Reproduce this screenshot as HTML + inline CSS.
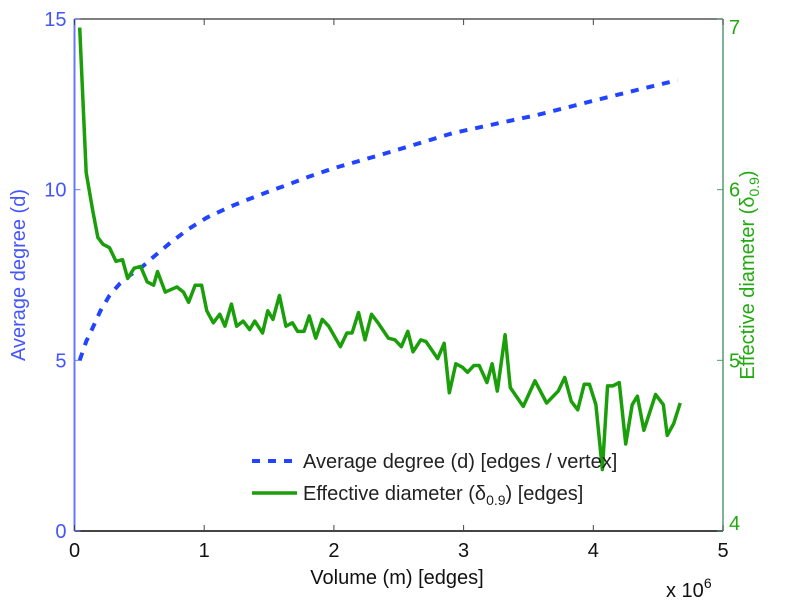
<!DOCTYPE html>
<html><head><meta charset="utf-8"><style>
body{margin:0;background:#fff;}
svg text{font-family:"Liberation Sans",sans-serif;}
</style></head><body>
<svg width="785" height="600" viewBox="0 0 785 600" xmlns="http://www.w3.org/2000/svg">
<g id="plot"></g>
</svg>
<script>
const xTicks=[0,1,2,3,4,5];
const leftTicks=[0,5,10,15];
const rightTicks=[4,5,6,7];
const degX=[0.04,0.09,0.14,0.2,0.27,0.35,0.43,0.51,0.6,0.74,0.88,1.02,1.2,1.33,1.5,1.64,1.8,2.0,2.36,2.65,2.92,3.25,3.57,4.1,4.65];
const degY=[5.0,5.55,5.95,6.45,6.9,7.25,7.5,7.7,8.0,8.45,8.85,9.18,9.5,9.7,9.95,10.14,10.37,10.63,11.02,11.35,11.66,11.93,12.19,12.7,13.21];
const diamX=[0.04,0.09,0.14,0.18,0.22,0.27,0.32,0.37,0.41,0.46,0.51,0.56,0.61,0.64,0.70,0.79,0.84,0.88,0.93,0.98,1.02,1.07,1.12,1.16,1.21,1.25,1.30,1.35,1.39,1.45,1.49,1.53,1.58,1.63,1.68,1.72,1.77,1.81,1.86,1.91,1.96,2.05,2.10,2.14,2.19,2.24,2.29,2.34,2.42,2.47,2.52,2.57,2.61,2.67,2.71,2.80,2.85,2.89,2.94,2.99,3.03,3.08,3.12,3.18,3.22,3.26,3.32,3.36,3.46,3.55,3.64,3.73,3.78,3.83,3.88,3.93,3.97,4.02,4.07,4.11,4.15,4.20,4.25,4.30,4.34,4.39,4.48,4.54,4.57,4.62,4.67];
const diamY=[6.95,6.10,5.88,5.72,5.68,5.66,5.58,5.59,5.48,5.54,5.55,5.46,5.44,5.52,5.40,5.43,5.40,5.34,5.44,5.44,5.29,5.22,5.27,5.20,5.33,5.20,5.23,5.18,5.23,5.16,5.29,5.24,5.38,5.20,5.22,5.17,5.17,5.26,5.13,5.24,5.20,5.08,5.16,5.16,5.28,5.12,5.27,5.22,5.13,5.12,5.08,5.17,5.05,5.12,5.11,5.01,5.10,4.81,4.98,4.96,4.93,4.97,4.97,4.87,4.98,4.82,5.15,4.84,4.73,4.88,4.75,4.82,4.90,4.76,4.71,4.86,4.86,4.74,4.36,4.85,4.85,4.87,4.51,4.74,4.79,4.59,4.80,4.74,4.56,4.63,4.75];

const L=74.5,R=723,T=19,B=531;
const sx=v=>L+(v-0)/5*(R-L);
const syL=v=>B-(v/15)*(B-T);
const syR=v=>B-((v-4)/3)*(B-T);
const NS='http://www.w3.org/2000/svg';
const g=document.getElementById('plot');
function mk(tag,attrs,parent){const e=document.createElementNS(NS,tag);for(const k in attrs)e.setAttribute(k,attrs[k]);(parent||g).appendChild(e);return e;}

let e;
e=mk('line',{x1:L,y1:T,x2:R,y2:T,stroke:'#555','stroke-width':1.5});


e=mk('line',{x1:L,y1:B,x2:R,y2:B,stroke:'#444','stroke-width':2});


e=mk('line',{x1:L,y1:T,x2:L,y2:B,stroke:'#6677ff','stroke-width':2});


e=mk('line',{x1:R,y1:T,x2:R,y2:B,stroke:'#559977','stroke-width':1.5});



xTicks.forEach(t=>{
  const x=sx(t);
  e=mk('line',{x1:x,y1:B,x2:x,y2:B-6,stroke:'#444','stroke-width':1});
  
  
  e=mk('line',{x1:x,y1:T,x2:x,y2:T+6,stroke:'#444','stroke-width':1});
  
  
  e=mk('text',{x:x,y:557,'font-size':20,'text-anchor':'middle',fill:'#111'});
  e.textContent=t;
  
  
});
leftTicks.forEach(t=>{
  const y=syL(t);
  e=mk('line',{x1:L,y1:y,x2:L+6,y2:y,stroke:'#6677ff','stroke-width':1});
  
  
  e=mk('text',{x:L-8,y:y+7,'font-size':20,'text-anchor':'end',fill:'#4455ff'});
  e.textContent=t;
  
  
});
rightTicks.forEach(t=>{
  const y=syR(t);
  e=mk('line',{x1:R,y1:y,x2:R-6,y2:y,stroke:'#559977','stroke-width':1});
  
  
  e=mk('text',{x:R+6,y:y+(t===4?-1:7)+(t===7?8:0),'font-size':20,fill:'#22aa11'});
  e.textContent=t;
  
  
});

e=mk('polyline',{points:degX.map((v,i)=>sx(v)+','+syL(degY[i])).join(' '),fill:'none',stroke:'#2244ff','stroke-width':4,'stroke-dasharray':'8 8'});


e=mk('polyline',{points:diamX.map((v,i)=>sx(v)+','+syR(diamY[i])).join(' '),fill:'none',stroke:'#1a9e0a','stroke-width':3.5,'stroke-linejoin':'round'});



e=mk('line',{x1:252,y1:461,x2:297,y2:461,stroke:'#2244ff','stroke-width':4,'stroke-dasharray':'8 8'});


e=mk('text',{x:303,y:468,'font-size':20,fill:'#222'});
e.textContent='Average degree (d) [edges / vertex]';


e=mk('line',{x1:252,y1:493,x2:297,y2:493,stroke:'#1a9e0a','stroke-width':3.5});


e=mk('text',{x:303,y:500,'font-size':20,fill:'#222'});
e.innerHTML='Effective diameter (δ<tspan font-size="14" dy="5">0.9</tspan><tspan dy="-5">) [edges]</tspan>';



e=mk('text',{x:397,y:584,'font-size':20,'text-anchor':'middle',fill:'#111'});
e.textContent='Volume (m) [edges]';


e=mk('text',{x:666,y:597,'font-size':20,fill:'#111'});
e.innerHTML='x 10<tspan font-size="14" dy="-9">6</tspan>';


e=mk('text',{x:0,y:0,'font-size':20,'text-anchor':'middle',fill:'#4455ff',transform:'translate(25,275) rotate(-90)'});
e.textContent='Average degree (d)';


e=mk('text',{x:0,y:0,'font-size':20,'text-anchor':'middle',fill:'#22aa11',transform:'translate(754,275) rotate(-90)'});
e.innerHTML='Effective diameter (δ<tspan font-size="14" dy="5">0.9</tspan><tspan dy="-5">)</tspan>';


</script>
</body></html>
